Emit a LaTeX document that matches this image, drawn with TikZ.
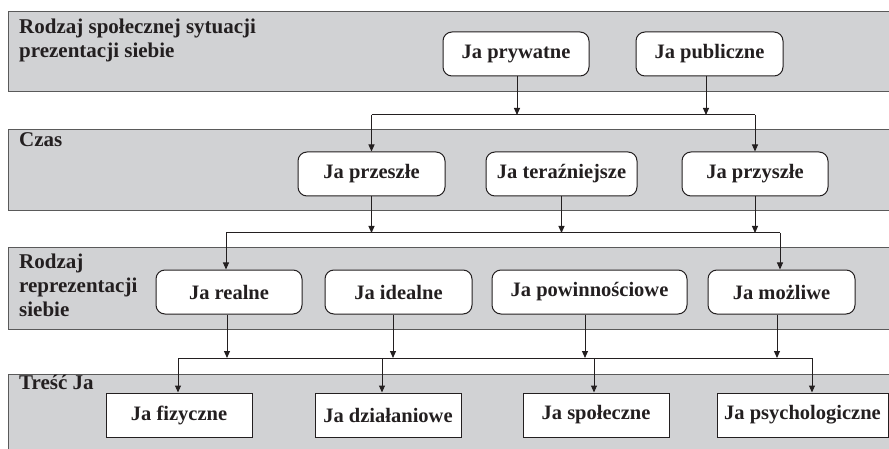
\documentclass[tikz,border=0pt]{standalone}
\usepackage{fontspec}
\setmainfont{Liberation Serif}
\usetikzlibrary{arrows.meta}
\definecolor{bandgrey}{HTML}{D1D2D4}
\definecolor{bandline}{HTML}{5A5A5A}
\definecolor{ink}{HTML}{231F20}
\tikzset{
  band/.style={fill=bandgrey, draw=bandline, line width=1pt},
  lbl/.style={anchor=north west, align=left, inner sep=0pt, font=\fontsize{21}{24}\selectfont\bfseries, text=ink},
  rbox/.style={draw=ink, fill=white, line width=1pt, rounded corners=9pt, minimum height=44pt, inner sep=0pt, font=\fontsize{20.5}{24}\selectfont\bfseries, text=ink},
  sbox/.style={draw=ink, fill=white, line width=1pt, minimum height=44pt, inner sep=0pt, font=\fontsize{20.5}{24}\selectfont\bfseries, text=ink},
  arr/.style={draw=ink, line width=1pt, -{Triangle[length=7pt,width=6pt]}},
  bus/.style={draw=ink, line width=1pt},
}
\begin{document}
\begin{tikzpicture}[x=1pt,y=-1pt]
\useasboundingbox (0,0) rectangle (889,449);

% four grey bands
\path[band] (8,12) rectangle (895,92);
\path[band] (8,130) rectangle (895,211);
\path[band] (8,248) rectangle (895,329);
\path[band] (8,374) rectangle (895,460);

% band captions
\node[lbl] (cap1) at (19,18.5) {Rodzaj społecznej sytuacji\\prezentacji siebie};
\node[lbl] (cap2) at (19,132) {Czas};
\node[lbl] (cap3) at (19,253.5) {Rodzaj\\reprezentacji\\siebie};
\node[lbl] (cap4) at (19,374.5) {Treść Ja};

% level 1
\node[rbox, minimum width=146pt] (priv) at (516,54) {Ja prywatne};
\node[rbox, minimum width=147pt] (pub) at (709.5,54) {Ja publiczne};
% level 2
\node[rbox, minimum width=147pt] (past) at (371.5,174) {Ja przeszłe};
\node[rbox, minimum width=151pt] (pres) at (561.5,174) {Ja teraźniejsze};
\node[rbox, minimum width=146pt] (fut) at (755,174) {Ja przyszłe};
% level 3
\node[rbox, minimum width=146pt] (real) at (229,292) {Ja realne};
\node[rbox, minimum width=147pt] (ideal) at (398.5,292) {Ja idealne};
\node[rbox, minimum width=195pt] (ought) at (589.5,292) {Ja powinnościowe};
\node[rbox, minimum width=147pt] (poss) at (781.5,292) {Ja możliwe};
% level 4
\node[sbox, minimum width=146pt] (phys) at (179,415) {Ja fizyczne};
\node[sbox, minimum width=146pt] (act) at (388,415) {Ja działaniowe};
\node[sbox, minimum width=146pt] (soc) at (596,415) {Ja społeczne};
\node[sbox, minimum width=171pt] (psy) at (802.5,415) {Ja psychologiczne};

% bus lines between levels
\coordinate (b1) at (0,115);
\coordinate (b2) at (0,233);
\coordinate (b3) at (0,358);

% level 1 -> level 2
\draw[arr] ([xshift=1pt]priv.south) -- ([xshift=1pt]priv.south |- b1);
\draw[arr] ([xshift=-3.5pt]pub.south) -- ([xshift=-3.5pt]pub.south |- b1);
\draw[bus] (past.north |- b1) -- (fut.north |- b1);
\draw[arr] (past.north |- b1) -- (past.north);
\draw[arr] (fut.north |- b1) -- (fut.north);

% level 2 -> level 3
\draw[arr] (past.south) -- (past.south |- b2);
\draw[arr] (pres.south) -- (pres.south |- b2);
\draw[arr] (fut.south) -- (fut.south |- b2);
\draw[bus] ([xshift=-3pt]real.north |- b2) -- ([xshift=-1.5pt]poss.north |- b2);
\draw[arr] ([xshift=-3pt]real.north |- b2) -- ([xshift=-3pt]real.north);
\draw[arr] ([xshift=-1.5pt]poss.north |- b2) -- ([xshift=-1.5pt]poss.north);

% level 3 -> level 4
\draw[arr] ([xshift=-2pt]real.south) -- ([xshift=-2pt]real.south |- b3);
\draw[arr] ([xshift=-5.5pt]ideal.south) -- ([xshift=-5.5pt]ideal.south |- b3);
\draw[arr] ([xshift=-4.5pt]ought.south) -- ([xshift=-4.5pt]ought.south |- b3);
\draw[arr] ([xshift=-4.5pt]poss.south) -- ([xshift=-4.5pt]poss.south |- b3);
\draw[bus] ([xshift=-1pt]phys.north |- b3) -- ([xshift=9.5pt]psy.north |- b3);
\draw[arr] ([xshift=-1pt]phys.north |- b3) -- ([xshift=-1pt]phys.north);
\draw[arr] ([xshift=-6pt]act.north |- b3) -- ([xshift=-6pt]act.north);
\draw[arr] ([xshift=-2pt]soc.north |- b3) -- ([xshift=-2pt]soc.north);
\draw[arr] ([xshift=9.5pt]psy.north |- b3) -- ([xshift=9.5pt]psy.north);
\end{tikzpicture}
\end{document}
